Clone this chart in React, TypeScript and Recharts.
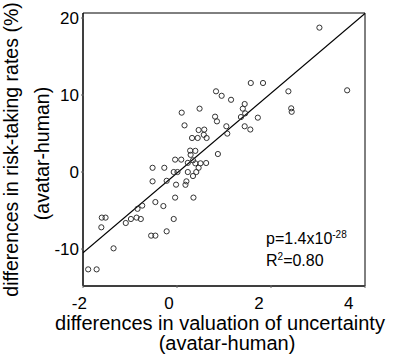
import { ScatterChart, Scatter, XAxis, YAxis, ReferenceLine, ReferenceArea } from "recharts";

const xTicks = [-2, 0, 2, 4];
const yTicks = [-10, 0, 10, 20];

const uncertaintyDiff = [
  -1.89, -1.71, -1.35, -1.61, -1.6, -1.52, -1.09, -0.98, -0.86, -0.77, -0.84, -0.74, -0.55, -0.46, -0.22,
  -0.07, -0.46, -0.29, -0.52, -0.22, -0.52, -0.27, -0.04, 0.35, -0.02, 0.18, 0.2, -0.07, 0.01, 0.23, 0.34,
  0.41, 0.46, -0.04, 0.09, 0.23, 0.34, 0.39, 0.5, 0.62, 0.29, 0.28, 0.39, 0.87, 0.32, 0.44, 0.57, 0.63, 0.46,
  0.58, 0.16, 0.1, 0.48, 0.81, 0.85, 1.05, 1.07, 0.83, 0.95, 1.15, 1.44, 1.4, 1.45, 1.36, 1.72, 1.44, 1.56,
  1.57, 1.83, 2.37, 2.43, 2.44, 3.03, 3.62,
];
const riskTakingDiff = [
  -12.64, -12.64, -9.91, -7.18, -5.92, -5.92, -6.62, -6.1, -5.92, -6.1, -4.78, -4.36, -8.26, -8.26, -7.7,
  -6.1, -3.9, -4.42, -1.21, -1.14, 0.55, 0.55, -3.32, -3.32, -1.64, -1.66, -1.21, 0, 0, 0, -0.52, 0, 0.55,
  1.61, 1.61, 1.19, 1.52, 1.13, 1.13, 1.17, 2.23, 2.78, 2.75, 2.34, 4.42, 4.42, 4.83, 4.42, 5.45, 5.51,
  6.06, 7.71, 8.23, 7.19, 6.58, 5.94, 4.99, 10.48, 9.9, 9.38, 8.83, 8.23, 7.62, 7.14, 7.06, 5.94, 5.52,
  11.56, 11.56, 10.48, 8.27, 7.82, 18.75, 10.61,
];

const fitSlope = 5.18;
const fitIntercept = -0.13;

const xDomain = [-2, 4];
const yDomain = [-14.8, 20.65];

const points = uncertaintyDiff.map((x, i) => ({ x, y: riskTakingDiff[i] }));
const fitLine = xDomain.map((x) => ({ x, y: fitIntercept + fitSlope * x }));

const font = "'Liberation Sans', Arial, sans-serif";

const OpenCircle = (props: any) => (
  <circle cx={props.cx} cy={props.cy} r={2.6} fill="none" stroke="#333" strokeWidth={1} />
);

const XTick = (props: any) => {
  const { x, y, payload } = props;
  const v = payload.value;
  const shift = -3.7 - 2.1 * (v + 2);
  return (
    <g>
      <line x1={x} x2={x} y1={y} y2={y - 3} stroke="#666" />
      <text x={x + shift} y={y + 21} textAnchor="middle" fontSize={17} fontFamily={font} fill="#000">
        {v}
      </text>
    </g>
  );
};

const YTick = (props: any) => {
  const { x, y, payload } = props;
  return (
    <g>
      <line x1={x} x2={x + 3} y1={y} y2={y} stroke="#666" />
      <text x={x - 2} y={y + 6} textAnchor="end" fontSize={17} fontFamily={font} fill="#000">
        {payload.value}
      </text>
    </g>
  );
};

const XTitle = (props: any) => {
  const { viewBox } = props;
  const cx = viewBox.x + viewBox.width / 2;
  return (
    <g fontFamily={font} fontSize={20} fill="#000">
      <text x={cx - 4} y={viewBox.y + 44} textAnchor="middle">differences in valuation of uncertainty</text>
      <text x={cx + 3} y={viewBox.y + 64} textAnchor="middle">(avatar-human)</text>
    </g>
  );
};

const YTitle = (props: any) => {
  const { viewBox } = props;
  const cy = viewBox.y + viewBox.height / 2;
  return (
    <g fontFamily={font} fontSize={19.5} fill="#000">
      <text x={18} y={cy} transform={`rotate(-90 18 ${cy})`} textAnchor="middle">
        differences in risk-taking rates (%)
      </text>
      <text x={49} y={cy + 4} transform={`rotate(-90 49 ${cy + 4})`} textAnchor="middle">
        (avatar-human)
      </text>
    </g>
  );
};

export default function App() {
  return (
    <div style={{ position: "absolute", left: 0, top: 0, width: 400, height: 360, background: "#fff" }}>
      <ScatterChart width={400} height={360} margin={{ top: 13, right: 35, bottom: 0, left: 0 }}>
        <XAxis
          type="number"
          dataKey="x"
          domain={xDomain}
          ticks={xTicks}
          allowDataOverflow
          height={74}
          axisLine={{ stroke: "#000" }}
          tickLine={false}
          tickSize={0}
          tick={<XTick />}
          label={<XTitle />}
        />
        <YAxis
          type="number"
          dataKey="y"
          domain={yDomain}
          ticks={yTicks}
          allowDataOverflow
          width={83}
          axisLine={{ stroke: "#000" }}
          tickLine={false}
          tickSize={0}
          tick={<YTick />}
          label={<YTitle />}
        />
        <ReferenceArea
          x1={xDomain[0]}
          x2={xDomain[1]}
          y1={yDomain[0]}
          y2={yDomain[1]}
          fill="none"
          stroke="#000"
          strokeWidth={1}
        />
        <ReferenceLine
          segment={fitLine}
          stroke="#000"
          strokeWidth={1.2}
          ifOverflow="hidden"
        />
        <Scatter data={points} shape={<OpenCircle />} isAnimationActive={false} />
      </ScatterChart>
      <div
        style={{
          position: "absolute",
          left: 266,
          top: 228,
          fontFamily: font,
          fontSize: 16,
          lineHeight: "22px",
          color: "#000",
        }}
      >
        <div>
          p=1.4x10<sup style={{ fontSize: 10, verticalAlign: "6px", lineHeight: 0 }}>-28</sup>
        </div>
        <div>
          R<sup style={{ fontSize: 10, verticalAlign: "6px", lineHeight: 0 }}>2</sup>=0.80
        </div>
      </div>
    </div>
  );
}
